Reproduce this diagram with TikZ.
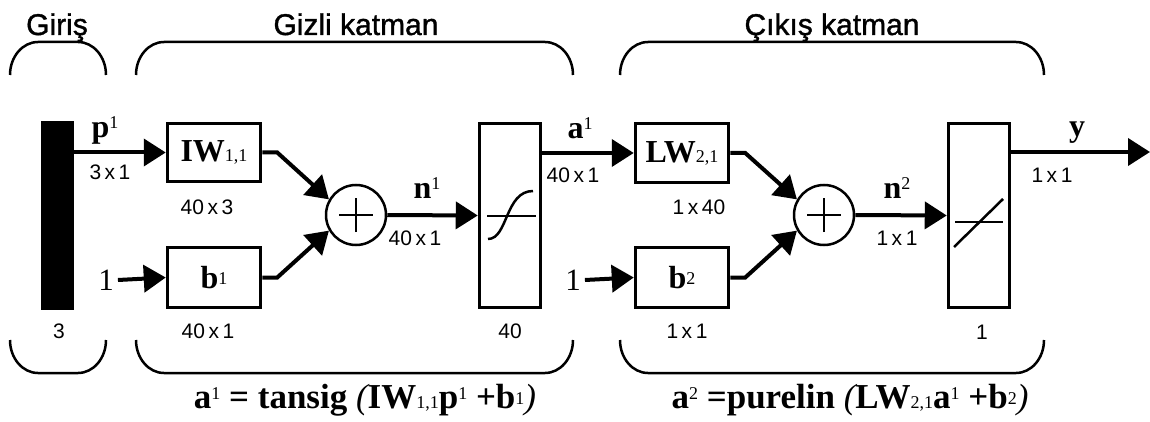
\documentclass[tikz,border=0pt]{standalone}
\usepackage{fontspec}
\setmainfont{Liberation Serif}
\newfontfamily\arialf{Liberation Sans}
\newfontfamily\titlef[FakeBold=1.2]{Liberation Sans}
\usetikzlibrary{arrows.meta,calc}
\newcommand\fs[1]{\fontsize{#1}{#1}\selectfont}
\newcommand\lo[1]{{\fs{18}\mdseries #1}}
\newcommand\mi[1]{\raisebox{4pt}{\fs{18}\mdseries #1}}
\newcommand\hi[1]{\raisebox{9pt}{\fs{18}\mdseries #1}}
\newcommand\ipar[1]{{\mdseries\itshape #1}}
\begin{document}
\begin{tikzpicture}[x=1pt,y=1pt,
  box/.style={draw,line width=3.5pt,inner sep=0pt,font=\bfseries\fs{32}},
  tall/.style={draw,line width=3.5pt,inner sep=0pt,minimum width=61pt,minimum height=184pt},
  sumnode/.style={circle,draw,line width=2.5pt,minimum size=60pt,inner sep=0pt},
  conn/.style={line width=4pt,-{Triangle[length=22pt,width=27pt]}},
  br/.style={line width=2.5pt},
  thin/.style={line width=2.5pt},
  dim/.style={font=\arialf\fs{21},inner sep=0pt},
  lab/.style={font=\bfseries\fs{32},inner sep=0pt},
  one/.style={font=\fs{31},inner sep=0pt},
  title/.style={font=\titlef\fs{30},inner sep=0pt,anchor=base},
  eq/.style={font=\bfseries\fs{35},inner sep=0pt,anchor=base}
]
\useasboundingbox (0,0) rectangle (1150,-422);

% titles
\node[title] (tin) at (57,-35) {Giriş};
\node[title] (thid) at (356,-35) {Gizli katman};
\node[title] (tout) at (832,-35) {Çıkış katman};

% top brackets
\draw[br] (10,-75) arc[start angle=180,end angle=90,x radius=28pt,y radius=33pt] -- (78,-42) arc[start angle=90,end angle=0,x radius=28pt,y radius=33pt];
\draw[br] (136,-75) arc[start angle=180,end angle=90,x radius=28pt,y radius=33pt] -- (545,-42) arc[start angle=90,end angle=0,x radius=28pt,y radius=33pt];
\draw[br] (620,-75) arc[start angle=180,end angle=90,x radius=28pt,y radius=33pt] -- (1016,-42) arc[start angle=90,end angle=0,x radius=28pt,y radius=33pt];
% bottom brackets
\draw[br] (10,-340) arc[start angle=180,end angle=270,x radius=28pt,y radius=33pt] -- (78,-373) arc[start angle=270,end angle=360,x radius=28pt,y radius=33pt];
\draw[br] (136,-340) arc[start angle=180,end angle=270,x radius=28pt,y radius=33pt] -- (545,-373) arc[start angle=270,end angle=360,x radius=28pt,y radius=33pt];
\draw[br] (620,-340) arc[start angle=180,end angle=270,x radius=28pt,y radius=33pt] -- (1016,-373) arc[start angle=270,end angle=360,x radius=28pt,y radius=33pt];

% input bar
\node[fill=black,minimum width=33pt,minimum height=189pt,inner sep=0pt] (bar) at (57.5,-215.5) {};
\node[dim] (dbar) at (59,-331) {3};

% hidden layer
\node[box,minimum width=93pt,minimum height=58pt] (IW) at (214,-152.5) {IW\lo{1,1}};
\node[box,minimum width=93pt,minimum height=60pt] (b1) at (214,-277.5) {b\mi{1}};
\node[sumnode] (s1) at (356,-215) {};
\node[tall] (sig) at (510,-215.5) {};
\node[one] (one1) at (106,-280) {1};

\draw[conn] (bar.east |- IW.west) -- (IW.west);
\draw[conn] (one1.east) ++(4,0) -- (b1.west);
\draw[conn] (IW.east) -- ++(15,0) -- (s1.150);
\draw[conn] (b1.east) -- ++(15,0) -- (s1.210);
\draw[conn] (s1.east) -- (sig.west);

\node[lab] (lp) at (105,-130) {p\hi{1}};
\node[dim] (dp) at (110,-172) {3\,x\,1};
\node[dim] (dIW) at (207,-207) {40\,x\,3};
\node[dim] (db1) at (208,-331) {40\,x\,1};
\node[lab] (ln1) at (427,-188) {n\hi{1}};
\node[dim] (dn1) at (415,-238) {40\,x\,1};
\node[dim] (dsig) at (510,-331) {40};

% output layer
\node[box,minimum width=93pt,minimum height=59pt] (LW) at (682,-153) {LW\lo{2,1}};
\node[box,minimum width=93pt,minimum height=60pt] (b2) at (682,-277.5) {b\mi{2}};
\node[sumnode] (s2) at (824,-215) {};
\node[tall] (lin) at (979,-215.5) {};
\node[one] (one2) at (573,-280) {1};
\coordinate (out) at (1150,-152);

\draw[conn] (sig.east |- LW.west) -- (LW.west);
\draw[conn] (one2.east) ++(4,0) -- (b2.west);
\draw[conn] (LW.east) -- ++(15,0) -- (s2.150);
\draw[conn] (b2.east) -- ++(15,0) -- (s2.210);
\draw[conn] (s2.east) -- (lin.west);
\draw[conn] (lin.east |- out) -- (out);

\node[lab] (la1) at (580,-128) {a\hi{1}};
\node[dim] (da1) at (573,-175) {40\,x\,1};
\node[dim] (dLW) at (699,-207) {1\,x\,40};
\node[dim] (db2) at (687,-331) {1\,x\,1};
\node[lab] (ln2) at (897,-188) {n\hi{2}};
\node[dim] (dn2) at (897,-238) {1\,x\,1};
\node[dim] (dlin) at (982,-332) {1};
\node[lab] (ly) at (1077,-133) {y};
\node[dim] (dy) at (1052,-175) {1\,x\,1};

% plus signs
\draw[thin] ($(s1.center)+(-17,0)$) -- ($(s1.center)+(17,0)$);
\draw[thin] ($(s1.center)+(0,-17)$) -- ($(s1.center)+(0,17)$);
\draw[thin] ($(s2.center)+(-17,0)$) -- ($(s2.center)+(17,0)$);
\draw[thin] ($(s2.center)+(0,-17)$) -- ($(s2.center)+(0,17)$);

% transfer function icons
\draw[line width=2pt] (487,-216) -- (536,-216);
\draw[thin] (488,-239) .. controls (508,-239) and (505,-191) .. (533,-191);
\draw[line width=2pt] (955,-222) -- (1003,-222);
\draw[thin] (954,-247) -- (1003,-199);

% equations
\node[eq] (eq1) at (365,-408) {a\hi{1} = tansig \ipar{(}IW\lo{1,1}p\hi{1} +b\mi{1}\ipar{)}};
\node[eq] (eq2) at (850,-408) {a\hi{2} =purelin \ipar{(}LW\lo{2,1}a\hi{1} +b\mi{2}\ipar{)}};
\end{tikzpicture}
\end{document}
